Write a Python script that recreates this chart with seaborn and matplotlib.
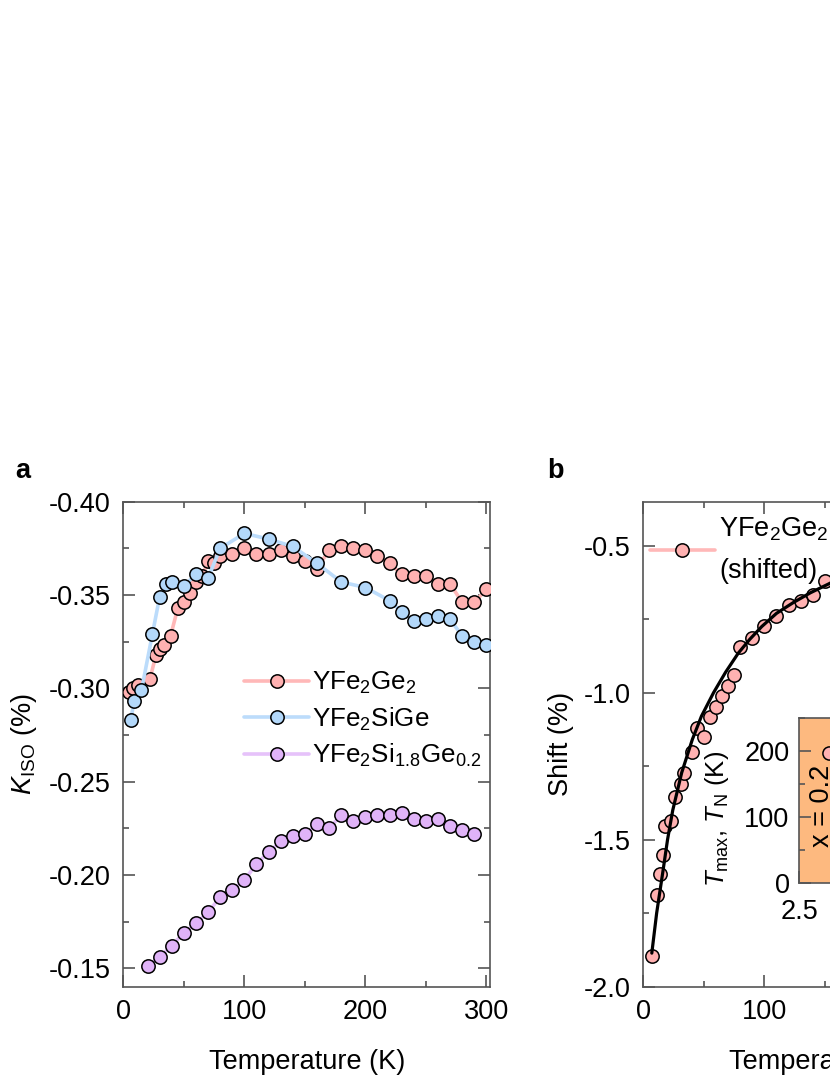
import matplotlib
matplotlib.use('Agg')
import matplotlib.pyplot as plt
import seaborn as sns
from matplotlib.ticker import MultipleLocator

# --- panel a: K_ISO vs temperature ---
t_ge2 = [5, 8, 12, 22, 27, 30, 34, 39, 45, 50, 55, 60, 65, 70, 75, 80,
         90, 100, 110, 120, 130, 140, 150, 160, 170, 180, 190, 200, 210,
         220, 230, 240, 250, 260, 270, 280, 290, 300]
k_ge2 = [-0.298, -0.300, -0.302, -0.305, -0.318, -0.321, -0.323, -0.328,
         -0.343, -0.346, -0.351, -0.357, -0.360, -0.368, -0.367, -0.371,
         -0.372, -0.375, -0.372, -0.372, -0.374, -0.371, -0.368, -0.364,
         -0.374, -0.376, -0.375, -0.374, -0.371, -0.367, -0.361, -0.360,
         -0.360, -0.356, -0.356, -0.346, -0.346, -0.353]

t_sige = [6, 9, 15, 24, 30, 35, 40, 50, 60, 70, 80, 100, 120, 140, 160,
          180, 200, 220, 230, 240, 250, 260, 270, 280, 290, 300]
k_sige = [-0.283, -0.293, -0.299, -0.329, -0.349, -0.356, -0.357, -0.355,
          -0.361, -0.359, -0.375, -0.383, -0.380, -0.376, -0.367, -0.357,
          -0.354, -0.347, -0.341, -0.336, -0.337, -0.339, -0.337, -0.328,
          -0.325, -0.323]

t_si18 = [20, 30, 40, 50, 60, 70, 80, 90, 100, 110, 120, 130, 140, 150,
          160, 170, 180, 190, 200, 210, 220, 230, 240, 250, 260, 270, 280, 290]
k_si18 = [-0.151, -0.156, -0.162, -0.169, -0.174, -0.180, -0.188, -0.192,
          -0.197, -0.206, -0.212, -0.218, -0.221, -0.222, -0.227, -0.225,
          -0.232, -0.229, -0.231, -0.232, -0.232, -0.233, -0.230, -0.229,
          -0.230, -0.226, -0.224, -0.222]

# --- panel b: shifted YFe2Ge2 + fit ---
t_shift = [7, 11, 14, 16.5, 18, 23, 26, 31, 34, 40, 44, 50, 55, 60, 65, 70,
           75, 80, 90, 100, 110, 120, 130, 140, 150]
s_shift = [-1.895, -1.687, -1.616, -1.551, -1.452, -1.437, -1.354, -1.309,
           -1.272, -1.202, -1.120, -1.150, -1.083, -1.049, -1.011, -0.977,
           -0.940, -0.846, -0.815, -0.773, -0.739, -0.701, -0.687, -0.668,
           -0.620]
t_fit = [7, 11, 16, 20, 24.3, 31.7, 40.5, 48, 58, 68, 78.5, 88, 97.8, 110,
         124, 138, 153, 165]
s_fit = [-1.886, -1.75, -1.613, -1.50, -1.40, -1.272, -1.159, -1.08, -1.0,
         -0.93, -0.865, -0.818, -0.775, -0.73, -0.693, -0.66, -0.630, -0.605]

# inset (only its left edge is visible)
phase_x = [2.5, 2.95]
inset_x = [2.70]
inset_y = [198]

pink_line, pink_face = '#ffb8b8', '#ffb1b1'
blue_line, blue_face = '#bcdcfb', '#b3d8fa'
purp_line, purp_face = '#e6c2fa', '#e0b3f8'
orange = '#fdb97f'
spine_col = '#555555'
fs = 19.5

sns.set_style('ticks')
plt.rcParams['font.family'] = ['Liberation Sans', 'DejaVu Sans']
plt.rcParams['mathtext.fontset'] = 'custom'
plt.rcParams['mathtext.rm'] = 'Liberation Sans'
plt.rcParams['mathtext.it'] = 'Liberation Sans:italic'
plt.rcParams['mathtext.default'] = 'regular'
plt.rcParams['font.size'] = fs
plt.rcParams['text.color'] = 'black'
plt.rcParams['axes.labelcolor'] = 'black'


def style_axes(ax):
    for s in ax.spines.values():
        s.set_color(spine_col)
        s.set_linewidth(1.2)
    ax.tick_params(which='both', direction='in', top=True, right=True,
                   color=spine_col, labelcolor='black', width=1.2,
                   labelsize=fs, pad=9)
    ax.tick_params(which='major', length=8.5)
    ax.tick_params(which='minor', length=4.5)


def draw(ax, x, y, line_col, face_col, label, z, lw=2.6):
    sns.lineplot(x=x, y=y, ax=ax, color=line_col, lw=lw, marker='o',
                 markersize=9.6, markerfacecolor=face_col,
                 markeredgecolor='black', markeredgewidth=1.1,
                 label=label, sort=False, zorder=z)


fig = plt.figure(figsize=(8.3, 10.75), dpi=100)
ax_a = fig.add_axes([0.1486, 0.0822, 0.4418, 0.4511])
ax_b = fig.add_axes([0.7751, 0.0822, 0.4418, 0.4511])

# panel a
draw(ax_a, t_ge2, k_ge2, pink_line, pink_face, 'YFe$_2$Ge$_2$', 3)
draw(ax_a, t_sige, k_sige, blue_line, blue_face, 'YFe$_2$SiGe', 4)
draw(ax_a, t_si18, k_si18, purp_line, purp_face, 'YFe$_2$Si$_{1.8}$Ge$_{0.2}$', 5)
ax_a.set_xlim(0, 303)
ax_a.set_ylim(-0.1401, -0.40)
ax_a.xaxis.set_major_locator(MultipleLocator(100))
ax_a.xaxis.set_minor_locator(MultipleLocator(50))
ax_a.yaxis.set_major_locator(MultipleLocator(0.05))
ax_a.yaxis.set_minor_locator(MultipleLocator(0.025))
ax_a.yaxis.set_major_formatter(plt.FormatStrFormatter('%.2f'))
style_axes(ax_a)
ax_a.set_xlabel('Temperature (K)', fontsize=fs, labelpad=17)
ax_a.set_ylabel(r'$\mathit{K}_{\mathrm{ISO}}$ (%)', fontsize=fs, labelpad=7)
ax_a.legend(loc='upper left', bbox_to_anchor=(0.33, 0.653), frameon=False,
            fontsize=18.7, handlelength=2.5, handletextpad=0.1,
            borderpad=0, borderaxespad=0, labelspacing=0.36)

# panel b: points without connecting line, fit drawn on top
draw(ax_b, t_shift, s_shift, pink_line, pink_face, 'YFe$_2$Ge$_2$\n(shifted)', 3, lw=0)
sns.lineplot(x=t_fit, y=s_fit, ax=ax_b, color='black', lw=2.3, sort=False,
             zorder=6)
ax_b.set_xlim(0, 303)
ax_b.set_ylim(-2.0, -0.35)
ax_b.xaxis.set_major_locator(MultipleLocator(100))
ax_b.xaxis.set_minor_locator(MultipleLocator(50))
ax_b.yaxis.set_major_locator(MultipleLocator(0.5))
ax_b.yaxis.set_minor_locator(MultipleLocator(0.25))
ax_b.yaxis.set_major_formatter(plt.FormatStrFormatter('%.1f'))
style_axes(ax_b)
ax_b.set_xlabel('Temperature (K)', fontsize=fs, labelpad=17)
ax_b.set_ylabel('Shift (%)', fontsize=fs, labelpad=7)
leg_b = ax_b.legend(loc='upper left', bbox_to_anchor=(0.018, 0.972),
                    frameon=False, fontsize=fs, handlelength=2.4,
                    handletextpad=0.15, borderpad=0, borderaxespad=0)
for txt in leg_b.get_texts():
    txt.set_linespacing(1.75)
for ln in leg_b.get_lines():
    ln.set_linewidth(2.6)

# inset
ax_in = fig.add_axes([0.963, 0.1789, 0.18, 0.1529])
ax_in.axvspan(phase_x[0], phase_x[1], color=orange, lw=0, zorder=0)
sns.scatterplot(x=inset_x, y=inset_y, ax=ax_in, s=90, color=pink_face,
                edgecolor='black', linewidth=1.1, zorder=3)
ax_in.text(2.649, 116.7, 'x = 0.2', rotation=90, ha='center', va='center',
           fontsize=fs)
ax_in.set_xlim(2.5, 3.5)
ax_in.set_ylim(0, 250)
ax_in.set_xticks([2.5, 3.0, 3.5])
ax_in.yaxis.set_major_locator(MultipleLocator(100))
ax_in.yaxis.set_minor_locator(MultipleLocator(50))
style_axes(ax_in)
ax_in.tick_params(top=False, right=False, pad=7)
ax_in.tick_params(axis='x', pad=12)
ax_in.set_ylabel(r'$\mathit{T}_{\mathrm{max}}$, $\mathit{T}_{\mathrm{N}}$ (K)',
                 fontsize=18.5)
ax_in.yaxis.set_label_coords(-0.46, 0.39)

fig.text(15 / 830, 1 - 478 / 1075, 'a', fontsize=fs, fontweight='bold')
fig.text(547 / 830, 1 - 478 / 1075, 'b', fontsize=fs, fontweight='bold')

fig.savefig('out.png', dpi=100)
